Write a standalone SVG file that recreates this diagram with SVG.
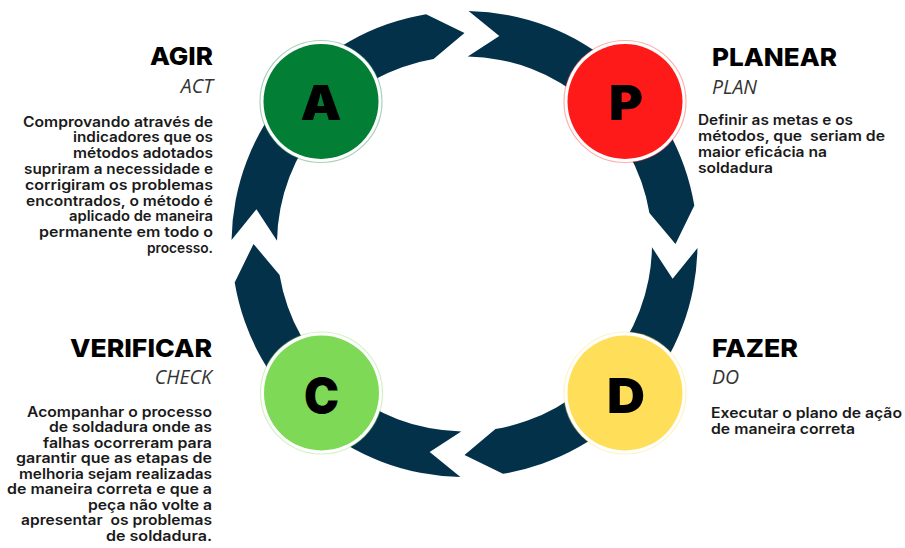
<svg xmlns="http://www.w3.org/2000/svg" width="905" height="548" viewBox="0 0 905 548">
<style>
.ring{fill:#04314A}
.halo{fill:#fff;stroke-width:1.2;stroke-opacity:.35}
.letter{font-family:Inter,"DejaVu Sans",sans-serif;font-weight:900;font-size:48px;fill:#000;text-anchor:middle}
.head{font-family:Inter,"DejaVu Sans",sans-serif;font-weight:800;font-size:25px;fill:#000}
.sub{font-family:"Open Sans","Liberation Sans",sans-serif;font-style:italic;font-weight:400;font-size:19.5px;fill:#333}
.body{font-family:Inter,"DejaVu Sans",sans-serif;font-weight:600;font-size:14px;fill:#1a1a1a}
.end{text-anchor:end}
</style>
<defs>
<path id="seg" d="M468.57,11.04 A233,233 0 0 1 694.30,205.54 L675.5,244 L649.43,213.05 A187.5,187.5 0 0 0 467.77,56.53 L499.33,35.89 Z"/>
</defs>
<g id="connectors">
<use href="#seg" class="ring"/>
<use href="#seg" class="ring" transform="rotate(90 464.5 244)"/>
<use href="#seg" class="ring" transform="rotate(180 464.5 244)"/>
<use href="#seg" class="ring" transform="rotate(270 464.5 244)"/>
</g>
<g id="node-act">
<circle class="halo" cx="321" cy="101.5" r="61" stroke="#037F35"/>
<circle cx="321" cy="101.5" r="57.5" fill="#037F35"/>
<text class="letter" x="321" y="120" textLength="41" lengthAdjust="spacingAndGlyphs">A</text>
<text class="head end" x="213" y="65" textLength="63" lengthAdjust="spacingAndGlyphs">AGIR</text>
<text class="sub end" x="213" y="93">ACT</text>
<text class="body end" x="213" y="126.7" textLength="190" lengthAdjust="spacingAndGlyphs">Comprovando através de</text>
<text class="body end" x="213" y="142.4" textLength="140" lengthAdjust="spacingAndGlyphs">indicadores que os</text>
<text class="body end" x="213" y="158.2" textLength="140" lengthAdjust="spacingAndGlyphs">métodos adotados</text>
<text class="body end" x="213" y="174" textLength="189" lengthAdjust="spacingAndGlyphs">supriram a necessidade e</text>
<text class="body end" x="213" y="189.7" textLength="188" lengthAdjust="spacingAndGlyphs">corrigiram os problemas</text>
<text class="body end" x="213" y="205.5" textLength="187" lengthAdjust="spacingAndGlyphs">encontrados, o método é</text>
<text class="body end" x="213" y="221.2" textLength="144" lengthAdjust="spacingAndGlyphs">aplicado de maneira</text>
<text class="body end" x="213" y="237" textLength="174" lengthAdjust="spacingAndGlyphs">permanente em todo o</text>
<text class="body end" x="213" y="252.7" textLength="66" lengthAdjust="spacingAndGlyphs">processo.</text>
</g>
<g id="node-plan">
<circle class="halo" cx="625" cy="101.5" r="61" stroke="#FF1A1A"/>
<circle cx="625" cy="101.5" r="57.5" fill="#FF1A1A"/>
<text class="letter" x="626" y="120" textLength="34" lengthAdjust="spacingAndGlyphs">P</text>
<text class="head" x="712" y="65.5" textLength="125" lengthAdjust="spacingAndGlyphs">PLANEAR</text>
<text class="sub" x="712" y="94">PLAN</text>
<text class="body" x="698" y="125.3" textLength="155" lengthAdjust="spacingAndGlyphs">Definir as metas e os</text>
<text class="body" x="698" y="141.1" textLength="187" lengthAdjust="spacingAndGlyphs" xml:space="preserve">métodos, que  seriam de</text>
<text class="body" x="698" y="156.9" textLength="129" lengthAdjust="spacingAndGlyphs">maior eficácia na</text>
<text class="body" x="698" y="172.7" textLength="75" lengthAdjust="spacingAndGlyphs">soldadura</text>
</g>
<g id="node-do">
<circle class="halo" cx="625" cy="393" r="61" stroke="#FFDE59"/>
<circle cx="625" cy="393" r="57.5" fill="#FFDE59"/>
<text class="letter" x="626" y="412.5" textLength="38" lengthAdjust="spacingAndGlyphs">D</text>
<text class="head" x="712" y="357.3" textLength="86" lengthAdjust="spacingAndGlyphs">FAZER</text>
<text class="sub" x="712" y="384">DO</text>
<text class="body" x="711" y="418" textLength="191" lengthAdjust="spacingAndGlyphs">Executar o plano de ação</text>
<text class="body" x="711" y="433.5" textLength="144" lengthAdjust="spacingAndGlyphs">de maneira correta</text>
</g>
<g id="node-check">
<circle class="halo" cx="321.5" cy="393" r="61" stroke="#7ED957"/>
<circle cx="321.5" cy="393" r="57.5" fill="#7ED957"/>
<text class="letter" x="321.5" y="412.5" textLength="35" lengthAdjust="spacingAndGlyphs">C</text>
<text class="head end" x="212" y="356.7" textLength="142" lengthAdjust="spacingAndGlyphs">VERIFICAR</text>
<text class="sub end" x="212" y="384">CHECK</text>
<text class="body end" x="212" y="416.7" textLength="185" lengthAdjust="spacingAndGlyphs">Acompanhar o processo</text>
<text class="body end" x="212" y="432.2" textLength="163" lengthAdjust="spacingAndGlyphs">de soldadura onde as</text>
<text class="body end" x="212" y="447.7" textLength="169" lengthAdjust="spacingAndGlyphs">falhas ocorreram para</text>
<text class="body end" x="212" y="463.2" textLength="196" lengthAdjust="spacingAndGlyphs">garantir que as etapas de</text>
<text class="body end" x="212" y="478.7" textLength="193" lengthAdjust="spacingAndGlyphs">melhoria sejam realizadas</text>
<text class="body end" x="212" y="494.2" textLength="205" lengthAdjust="spacingAndGlyphs">de maneira correta e que a</text>
<text class="body end" x="212" y="509.7" textLength="124" lengthAdjust="spacingAndGlyphs">peça não volte a</text>
<text class="body end" x="212" y="525.2" textLength="191" lengthAdjust="spacingAndGlyphs" xml:space="preserve">apresentar  os problemas</text>
<text class="body end" x="212" y="540.7" textLength="106" lengthAdjust="spacingAndGlyphs">de soldadura.</text>
</g>
</svg>
